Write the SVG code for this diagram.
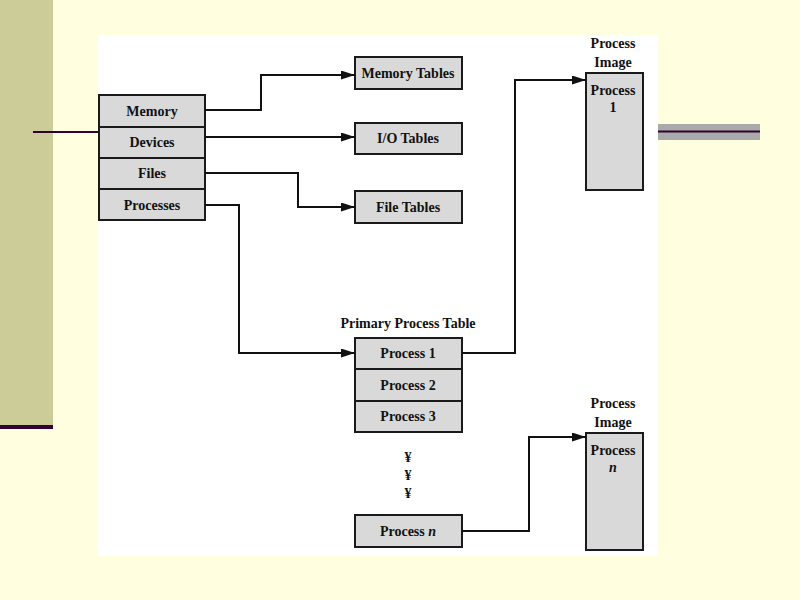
<svg xmlns="http://www.w3.org/2000/svg" width="800" height="600" viewBox="0 0 800 600">
<defs>
<marker id="arr" markerWidth="14" markerHeight="9" refX="14" refY="4.5" orient="auto" markerUnits="userSpaceOnUse">
<path d="M0,0 L14,4.5 L0,9 Z" fill="#111"/>
</marker>
<style>
.box{fill:#d9d9d9;stroke:#1a1a1a;stroke-width:2}
.t{font-family:"Liberation Serif","Times New Roman",serif;font-weight:bold;font-size:14px;fill:#111;text-anchor:middle}
.c{fill:none;stroke:#111;stroke-width:2}
</style>
</defs>
<rect x="0" y="0" width="800" height="600" fill="#ffffe0"/>
<rect x="0" y="0" width="53" height="427" fill="#cccc99"/>
<rect x="0" y="425" width="53" height="4" fill="#330033"/>
<line x1="33" y1="132" x2="98" y2="132" stroke="#330033" stroke-width="2"/>
<rect x="98" y="35" width="560" height="521" fill="#ffffff"/>
<rect x="658" y="124" width="102" height="16" fill="#aaaaaa"/>
<line x1="658" y1="131.5" x2="760" y2="131.5" stroke="#330033" stroke-width="2"/>

<g id="memory"><rect class="box" x="99" y="95" width="106" height="32"/><text class="t" x="152" y="116">Memory</text></g>
<g id="devices"><rect class="box" x="99" y="127" width="106" height="31"/><text class="t" x="152" y="147">Devices</text></g>
<g id="files"><rect class="box" x="99" y="158" width="106" height="31"/><text class="t" x="152" y="178">Files</text></g>
<g id="processes"><rect class="box" x="99" y="189" width="106" height="31"/><text class="t" x="152" y="210">Processes</text></g>

<g id="memory-tables"><rect class="box" x="355" y="57" width="107" height="32"/><text class="t" x="408" y="78">Memory Tables</text></g>
<g id="io-tables"><rect class="box" x="355" y="123" width="107" height="31"/><text class="t" x="408" y="143">I/O Tables</text></g>
<g id="file-tables"><rect class="box" x="355" y="191" width="107" height="32"/><text class="t" x="408" y="212">File Tables</text></g>

<g id="primary-process-table">
<text class="t" x="408" y="328">Primary Process Table</text>
<rect class="box" x="355" y="338" width="107" height="31"/><text class="t" x="408" y="358">Process 1</text>
<rect class="box" x="355" y="369" width="107" height="32"/><text class="t" x="408" y="390">Process 2</text>
<rect class="box" x="355" y="401" width="107" height="31"/><text class="t" x="408" y="421">Process 3</text>
<text class="t" x="408" y="462">¥</text>
<text class="t" x="408" y="480">¥</text>
<text class="t" x="408" y="498">¥</text>
<rect class="box" x="355" y="515" width="107" height="32"/><text class="t" x="408" y="536">Process <tspan font-style="italic">n</tspan></text>
</g>

<g id="process-image-1">
<text class="t" x="613" y="48">Process</text>
<text class="t" x="613" y="67">Image</text>
<rect class="box" x="586" y="73" width="57" height="117"/>
<text class="t" x="613" y="95">Process</text>
<text class="t" x="613" y="112">1</text>
</g>
<g id="process-image-n">
<text class="t" x="613" y="408">Process</text>
<text class="t" x="613" y="427">Image</text>
<rect class="box" x="586" y="433" width="57" height="117"/>
<text class="t" x="613" y="455">Process</text>
<text class="t" x="613" y="472" font-style="italic">n</text>
</g>

<g id="connectors">
<polyline class="c" points="205,110 261,110 261,75 355,75" marker-end="url(#arr)"/>
<polyline class="c" points="205,137 355,137" marker-end="url(#arr)"/>
<polyline class="c" points="205,173 298,173 298,207 355,207" marker-end="url(#arr)"/>
<polyline class="c" points="205,205 239,205 239,353 355,353" marker-end="url(#arr)"/>
<polyline class="c" points="462,353 515,353 515,80 586,80" marker-end="url(#arr)"/>
<polyline class="c" points="462,531 529,531 529,437 586,437" marker-end="url(#arr)"/>
</g>
</svg>
